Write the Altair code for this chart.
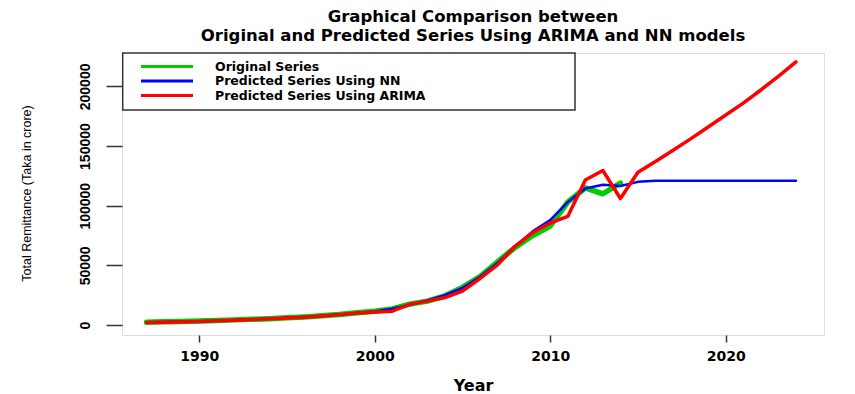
import altair as alt
import pandas as pd

# ---------------- data ----------------
years_all = list(range(1987, 2025))
years_orig = list(range(1987, 2015))

original = [2400, 2700, 3000, 3300, 3700, 4300, 4800, 5300, 6000, 6800,
            7800, 8900, 10200, 11500, 13500, 17500, 20000, 24500, 31500, 40500,
            53000, 65000, 75000, 83000, 103000, 115000, 110000, 119000]

nn_pred = [2400, 2600, 2900, 3200, 3600, 4200, 4800, 5300, 6000, 6800,
           7800, 8900, 10100, 11300, 13600, 17000, 20500, 25000, 31000, 40500,
           52000, 66000, 78500, 88000, 103000, 114500, 117500, 116500, 120000, 121000,
           121000, 121000, 121000, 121000, 121000, 121000, 121000, 121000]

arima_pred = [2100, 2400, 2700, 3000, 3500, 4000, 4600, 5200, 5800, 6600,
              7500, 8700, 10000, 10800, 11600, 17500, 20000, 23000, 28500, 39000,
              50500, 66000, 77500, 85500, 91000, 121500, 129500, 106000, 128000, 137000,
              146500, 156000, 166000, 176000, 186000, 197000, 208500, 220500]

series_names = ["Original Series", "Predicted Series Using NN", "Predicted Series Using ARIMA"]
series_colors = ["#00cc00", "#0000ff", "#ff0000"]

x_ticks = [1990, 2000, 2010, 2020]
y_ticks = [0, 50000, 100000, 150000, 200000]

title_lines = ["Graphical Comparison between",
               "Original and Predicted Series Using ARIMA and NN models"]
x_title = "Year"
y_title = "Total Remittance (Taka in crore)"

# ---------------- chart ----------------
FONT = "Liberation Sans"
WIDE = "DejaVu Sans"
W, H = 702, 282

df_o = pd.DataFrame({"Year": years_orig, "Value": original})
df_n = pd.DataFrame({"Year": years_all, "Value": nn_pred})
df_a = pd.DataFrame({"Year": years_all, "Value": arima_pred})

xs = alt.Scale(domain=[1985.6, 2025.6], nice=False, zero=False)
ys = alt.Scale(domain=[-8380, 228000], nice=False, zero=False)

xax = alt.Axis(values=x_ticks, format="d", title=x_title, grid=False, domain=False,
               labelFont=WIDE, labelFontSize=14, labelFontWeight="bold", labelColor="black",
               labelPadding=7, labelFlush=False, labelOverlap=False,
               tickSize=7, tickColor="#333", tickWidth=1.5,
               titleFont=WIDE, titleFontSize=16, titleFontWeight="bold", titleColor="black",
               titleX=W / 2, titleY=50, titleAlign="center", titleBaseline="middle")
yax = alt.Axis(values=y_ticks, format="d", title=y_title, grid=False, domain=False,
               labelFont=FONT, labelFontSize=14, labelFontWeight="bold", labelColor="black",
               labelAngle=270, labelAlign="center", labelBaseline="bottom",
               labelPadding=14, labelOverlap=False, labelFlush=False,
               tickSize=16, tickColor="#333", tickWidth=1.5,
               titleFont=FONT, titleFontSize=12.5, titleFontWeight="normal", titleColor="black",
               titleAngle=270, titleX=-96, titleY=140, titleAlign="center", titleBaseline="middle")


def line(df, color, width):
    return alt.Chart(df).mark_line(color=color, strokeWidth=width, strokeJoin="round",
                                   strokeCap="round").encode(
        x=alt.X("Year:Q", scale=xs, axis=xax),
        y=alt.Y("Value:Q", scale=ys, axis=yax),
    )


green = line(df_o, series_colors[0], 5.5)
blue = line(df_n, series_colors[1], 2.5)
red = line(df_a, series_colors[2], 3.5)

legend_box = alt.Chart(pd.DataFrame({"k": [0]})).mark_rect(
    fill="white", stroke="#333", strokeWidth=1.5).encode(
    x=alt.value(0.7), x2=alt.value(453), y=alt.value(0), y2=alt.value(57))

legend_layers = [legend_box]
row_y = [13.5, 28, 42.5]
for name, col, yy in zip(series_names, series_colors, row_y):
    d = pd.DataFrame({"label": [name]})
    legend_layers.append(alt.Chart(d).mark_rule(color=col, strokeWidth=3).encode(
        x=alt.value(19), x2=alt.value(71), y=alt.value(yy)))
    legend_layers.append(alt.Chart(d).mark_text(
        align="left", baseline="middle", font=WIDE, fontSize=12.5, fontWeight="bold",
        color="black").encode(x=alt.value(93), y=alt.value(yy), text="label:N"))

chart = alt.layer(green, blue, red, *legend_layers).properties(
    width=W, height=H,
    title=alt.TitleParams(text=title_lines, font=WIDE, fontSize=16.5, fontWeight="bold",
                          color="black", anchor="middle", offset=8, lineHeight=18.5),
    autosize=alt.AutoSizeParams(type="none"),
    padding={"left": 114, "top": 45, "right": 10, "bottom": 60},
).configure_view(stroke="#333", strokeWidth=1.5).configure(background="white")

chart.save("out.html", embed_options={"renderer": "svg", "actions": False})
